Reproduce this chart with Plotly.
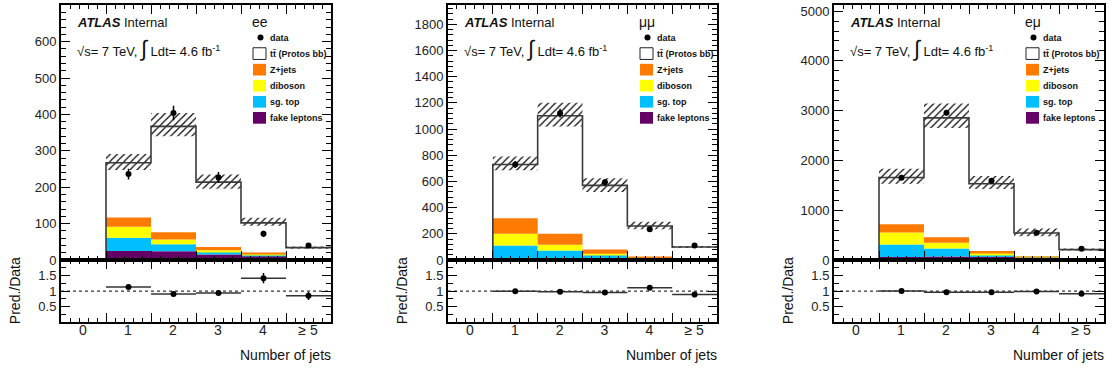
import plotly.graph_objects as go

W, H = 1115, 378
FONT = "Liberation Sans, Arial, Helvetica, sans-serif"

# ---- binning ----------------------------------------------------------
bin_centers = [0, 1, 2, 3, 4, 5]
bin_labels = ["0", "1", "2", "3", "4", "≥ 5"]
bin_edges = [-0.5, 0.5, 1.5, 2.5, 3.5, 4.5, 5.5]

# ---- ee channel -------------------------------------------------------
ee_data = [None, 236, 404, 227, 72, 40]
ee_data_err = [0, 15, 20, 15, 8.5, 6.3]
ee_fake = [0, 25, 24, 15, 11, 0.5]
ee_sgtop = [0, 36, 19, 7, 2, 0.3]
ee_diboson = [0, 30, 13, 5, 3, 0.2]
ee_zjets = [0, 26, 20, 9, 4, 0.5]
ee_ttbar = [0, 150, 291, 178, 82, 32.5]
ee_unc_up = [0, 24, 37, 21, 14, 3]
ee_unc_down = [0, 20, 27, 18, 8, 3]

# ---- mumu channel -----------------------------------------------------
mm_data = [None, 730, 1122, 594, 235, 111]
mm_data_err = [0, 27, 33, 24, 15, 10.5]
mm_fake = [0, 5, 5, 3, 1, 0.5]
mm_sgtop = [0, 105, 67, 35, 3, 0.5]
mm_diboson = [0, 90, 44, 10, 3, 0.5]
mm_zjets = [0, 118, 84, 32, 20, 6]
mm_ttbar = [0, 412, 902, 490, 233, 91.5]
mm_unc_up = [0, 60, 99, 54, 32, 8]
mm_unc_down = [0, 44, 82, 50, 25, 8]

# ---- emu channel ------------------------------------------------------
em_data = [None, 1650, 2960, 1592, 548, 228]
em_data_err = [0, 41, 54, 40, 23, 15]
em_fake = [0, 60, 70, 60, 35, 8]
em_sgtop = [0, 250, 160, 50, 20, 5]
em_diboson = [0, 240, 115, 30, 8, 3]
em_zjets = [0, 170, 110, 40, 7, 4]
em_ttbar = [0, 936, 2400, 1352, 471, 189]
em_unc_up = [0, 176, 288, 157, 91, 20]
em_unc_down = [0, 124, 202, 104, 65, 20]

channels = [
    dict(name="ee", data=ee_data, err=ee_data_err, fake=ee_fake, sgtop=ee_sgtop,
         diboson=ee_diboson, zjets=ee_zjets, ttbar=ee_ttbar,
         up=ee_unc_up, down=ee_unc_down, ymax=699.5, dtick=100, minor=20),
    dict(name="μμ", data=mm_data, err=mm_data_err, fake=mm_fake, sgtop=mm_sgtop,
         diboson=mm_diboson, zjets=mm_zjets, ttbar=mm_ttbar,
         up=mm_unc_up, down=mm_unc_down, ymax=1945, dtick=200, minor=40),
    dict(name="eμ", data=em_data, err=em_data_err, fake=em_fake, sgtop=em_sgtop,
         diboson=em_diboson, zjets=em_zjets, ttbar=em_ttbar,
         up=em_unc_up, down=em_unc_down, ymax=5115, dtick=1000, minor=200),
]

# stack order, bottom to top
stack_keys = ["fake", "sgtop", "diboson", "zjets"]
stack_colors = {"fake": "#660066", "sgtop": "#00BFFF", "diboson": "#FFFF00", "zjets": "#FF7A00"}
legend_rows = [("data", None), ("tt\u0304 (Protos bb)", "#FFFFFF"), ("Z+jets", "#FF7A00"),
               ("diboson", "#FFFF00"), ("sg. top", "#00BFFF"), ("fake leptons", "#660066")]

# frame geometry in pixels
frames_x = [(61, 331), (448, 717), (834, 1104)]
main_top, main_bot, ratio_bot = 3.5, 265, 329


def fx(px):
    return px / W


def fy(py):
    return 1 - py / H


fig = go.Figure()
shapes, annotations = [], []
layout = {}

for i, ch in enumerate(channels):
    nm, nr = 2 * i + 1, 2 * i + 2
    xm, ym = f"x{nm}", f"y{nm}"
    xr, yr = f"x{nr}", f"y{nr}"
    L, R = frames_x[i]

    # stacked backgrounds
    base = [0.0] * 6
    for k in stack_keys:
        vals = ch[k]
        fig.add_trace(go.Bar(x=bin_centers, y=vals, base=list(base), width=1,
                             marker=dict(color=stack_colors[k], line=dict(width=0)),
                             xaxis=xm, yaxis=ym, showlegend=False, hoverinfo="skip"))
        base = [b + v for b, v in zip(base, vals)]
    total = [b + t for b, t in zip(base, ch["ttbar"])]

    # total prediction outline (ttbar on top of the stack)
    fig.add_trace(go.Scatter(x=bin_edges, y=total + [total[-1]], mode="lines",
                             line=dict(color="#3a3a3a", width=1.6, shape="hv"),
                             xaxis=xm, yaxis=ym, showlegend=False, hoverinfo="skip"))

    # uncertainty band
    band_base = [t - d for t, d in zip(total, ch["down"])]
    band_h = [u + d for u, d in zip(ch["up"], ch["down"])]
    fig.add_trace(go.Bar(x=bin_centers, y=band_h, base=band_base, width=1,
                         marker=dict(color="rgba(0,0,0,0)", line=dict(width=0),
                                     pattern=dict(shape="/", fgcolor="#000000", fgopacity=1,
                                                  size=5, solidity=0.24, fillmode="overlay")),
                         xaxis=xm, yaxis=ym, showlegend=False, hoverinfo="skip"))

    # data points
    fig.add_trace(go.Scatter(x=bin_centers, y=ch["data"], mode="markers",
                             marker=dict(color="#000000", size=6),
                             error_y=dict(type="data", array=ch["err"], width=0,
                                          thickness=1.5, color="#000000"),
                             xaxis=xm, yaxis=ym, showlegend=False, hoverinfo="skip"))

    # ratio prediction / data
    ratio, ratio_err = [], []
    for t, d, e in zip(total, ch["data"], ch["err"]):
        if d is None:
            ratio.append(None)
            ratio_err.append(0)
        else:
            ratio.append(t / d)
            ratio_err.append(t / d * e / d)
    fig.add_trace(go.Scatter(x=bin_edges, y=[1] * 7, mode="lines",
                             line=dict(color="#333333", width=1.3, dash="dot"),
                             xaxis=xr, yaxis=yr, showlegend=False, hoverinfo="skip"))
    fig.add_trace(go.Scatter(x=bin_centers, y=ratio, mode="markers",
                             marker=dict(color="#000000", size=6),
                             error_y=dict(type="data", array=ratio_err, width=0,
                                          thickness=1.5, color="#000000"),
                             error_x=dict(type="constant", value=0.5, width=0,
                                          thickness=1.5, color="#333333"),
                             xaxis=xr, yaxis=yr, showlegend=False, hoverinfo="skip"))

    common_x = dict(range=[-0.5, 5.5], domain=[fx(L), fx(R)], showgrid=False, zeroline=False,
                    showline=True, linecolor="#000000", linewidth=2, mirror="allticks",
                    ticks="inside", ticklen=9, tickwidth=1, tickcolor="#000000",
                    tickmode="array", tickvals=bin_edges[:-1],
                    minor=dict(dtick=0.2, tick0=-0.5, ticks="inside", ticklen=4,
                               tickcolor="#000000", tickwidth=1, showgrid=False))
    layout["xaxis" + ("" if nm == 1 else str(nm))] = dict(common_x, anchor=ym, showticklabels=False)
    layout[f"xaxis{nr}"] = dict(common_x, anchor=yr, ticktext=bin_labels,
                                ticklabelshift=int(round((R - L) / 12.0)),
                                ticklabelstandoff=-6,
                                tickfont=dict(size=14, color="#222222", family=FONT))
    common_y = dict(showgrid=False, zeroline=False, showline=True, linecolor="#000000",
                    linewidth=2, mirror="allticks", ticks="inside", ticklen=9,
                    tickcolor="#000000", tickwidth=1,
                    tickfont=dict(size=13, color="#222222", family=FONT))
    layout["yaxis" + ("" if nm == 1 else str(nm))] = dict(
        common_y, anchor=xm, domain=[fy(main_bot), fy(main_top)], range=[0, ch["ymax"]],
        dtick=ch["dtick"], tick0=0,
        minor=dict(dtick=ch["minor"], ticks="inside", ticklen=5, tickcolor="#000000",
                   showgrid=False))
    layout[f"yaxis{nr}"] = dict(
        common_y, anchor=xr, domain=[fy(ratio_bot), fy(main_bot)], range=[0, 2],
        tickmode="array", tickvals=[0.5, 1, 1.5], ticktext=["0.5", "1", "1.5"],
        minor=dict(dtick=0.25, tick0=0, ticks="inside", ticklen=5, tickcolor="#000000",
                   showgrid=False))

    # labels
    annotations.append(dict(text="<b><i>ATLAS</i></b> Internal", x=fx(L + 14), y=fy(21.5),
                            xref="paper", yref="paper", xanchor="left", yanchor="middle",
                            showarrow=False, font=dict(size=13, family=FONT, color="#111111")))
    annotations.append(dict(text="√s= 7 TeV, <span style='font-size:22px'>∫</span> Ldt= 4.6 fb<sup>-1</sup>",
                            x=fx(L + 14), y=fy(48), xref="paper", yref="paper",
                            xanchor="left", yanchor="middle", showarrow=False,
                            font=dict(size=13, family=FONT, color="#111111")))
    annotations.append(dict(text=ch["name"], x=fx(L + 189), y=fy(21), xref="paper", yref="paper",
                            xanchor="left", yanchor="middle", showarrow=False,
                            font=dict(size=14, family=FONT, color="#111111")))
    annotations.append(dict(text="Pred./Data", x=fx(L - 46), y=fy((main_bot + ratio_bot) / 2),
                            xref="paper", yref="paper", xanchor="center", yanchor="middle",
                            textangle=-90, showarrow=False,
                            font=dict(size=14, family=FONT, color="#111111")))
    annotations.append(dict(text="Number of jets", x=fx(R + 2), y=fy(363), xref="paper",
                            yref="paper", xanchor="right", yanchor="middle", showarrow=False,
                            font=dict(size=14, family=FONT, color="#111111")))

    # legend box
    for j, (label, color) in enumerate(legend_rows):
        ry = 36.5 + j * 16.5
        if color is None:
            shapes.append(dict(type="circle", xref="paper", yref="paper",
                               x0=fx(L + 196.5), x1=fx(L + 202.5), y0=fy(ry + 3), y1=fy(ry - 3),
                               fillcolor="#000000", line=dict(width=0)))
        else:
            shapes.append(dict(type="rect", xref="paper", yref="paper",
                               x0=fx(L + 192), x1=fx(L + 205), y0=fy(ry + 6), y1=fy(ry - 6),
                               fillcolor=color,
                               line=dict(width=1 if color == "#FFFFFF" else 0, color="#222222")))
        annotations.append(dict(text=f"<b>{label}</b>", x=fx(L + 207), y=fy(ry), xref="paper",
                                yref="paper", xanchor="left", yanchor="middle", showarrow=False,
                                font=dict(size=9, family=FONT, color="#111111")))

fig.update_layout(
    width=W, height=H, margin=dict(l=0, r=0, t=0, b=0),
    paper_bgcolor="#FFFFFF", plot_bgcolor="#FFFFFF",
    barmode="overlay", showlegend=False,
    font=dict(family=FONT, color="#111111"),
    shapes=shapes, annotations=annotations,
    **layout,
)

fig.write_html("out.html")
